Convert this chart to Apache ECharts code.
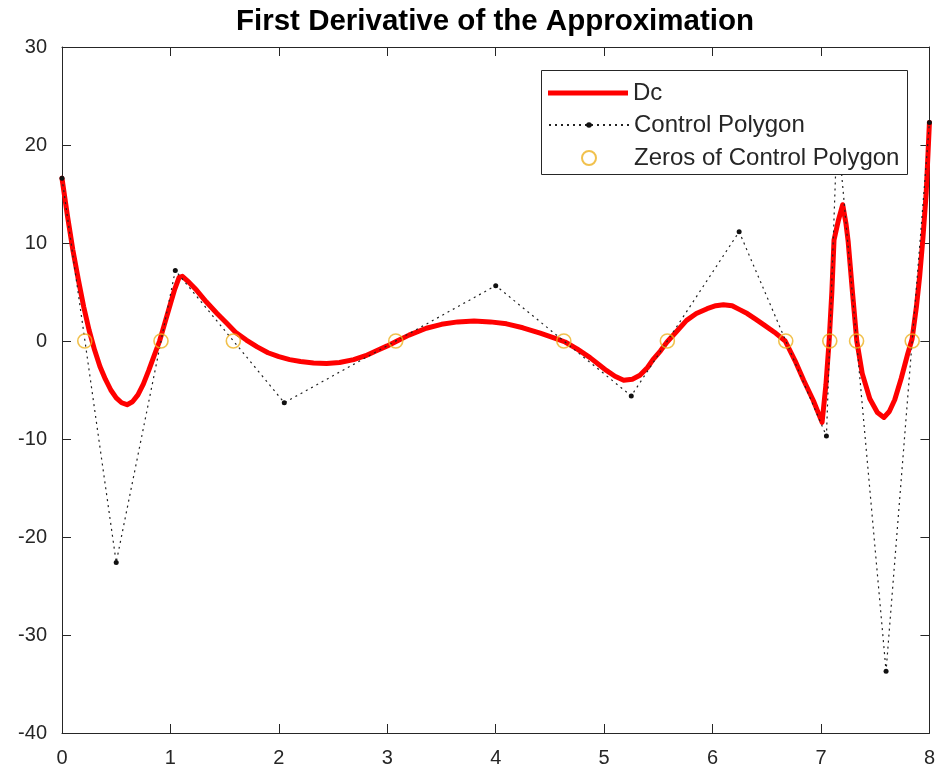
<!DOCTYPE html>
<html>
<head>
<meta charset="utf-8">
<title>First Derivative of the Approximation</title>
<script src="https://cdn.jsdelivr.net/npm/echarts@6/dist/echarts.min.js"></script>
<style>
  html, body { margin: 0; padding: 0; background: #fff; }
  #chart { width: 938px; height: 773px; }
</style>
</head>
<body>
<div id="chart"></div>
<script>
// Derivative curve Dc
const dcX = [0, 0.05, 0.10, 0.15, 0.20, 0.25, 0.30, 0.35, 0.40, 0.45, 0.50, 0.55, 0.60, 0.65, 0.70, 0.75, 0.80, 0.85, 0.90, 0.95, 1.00, 1.04, 1.08, 1.11, 1.17, 1.24, 1.33, 1.43, 1.52, 1.60, 1.70, 1.80, 1.90, 2.00, 2.10, 2.20, 2.32, 2.44, 2.56, 2.69, 2.80, 2.90, 3.00, 3.09, 3.20, 3.36, 3.50, 3.65, 3.80, 3.95, 4.10, 4.25, 4.41, 4.53, 4.64, 4.75, 4.87, 4.95, 5.02, 5.10, 5.18, 5.26, 5.33, 5.40, 5.45, 5.52, 5.58, 5.67, 5.76, 5.85, 5.95, 6.03, 6.10, 6.18, 6.25, 6.32, 6.40, 6.48, 6.57, 6.67, 6.76, 6.84, 6.93, 7.01, 7.045, 7.075, 7.10, 7.12, 7.16, 7.20, 7.23, 7.25, 7.29, 7.33, 7.38, 7.45, 7.52, 7.58, 7.63, 7.68, 7.74, 7.80, 7.84, 7.88, 7.91, 7.94, 7.97, 8.0];
const dcY = [16.6, 12.8, 9.3, 6.3, 3.5, 1.1, -0.9, -2.6, -3.9, -5.0, -5.8, -6.3, -6.5, -6.2, -5.5, -4.4, -3.0, -1.5, 0.0, 1.9, 3.8, 5.3, 6.5, 6.6, 6.0, 5.2, 4.0, 2.8, 1.8, 0.9, 0.1, -0.6, -1.2, -1.6, -1.9, -2.1, -2.25, -2.3, -2.2, -1.9, -1.5, -1.0, -0.5, 0.0, 0.6, 1.3, 1.7, 1.95, 2.05, 1.95, 1.75, 1.35, 0.8, 0.35, -0.1, -0.8, -1.7, -2.4, -3.0, -3.6, -4.0, -3.9, -3.5, -2.7, -1.9, -1.0, -0.1, 1.0, 2.1, 2.8, 3.3, 3.6, 3.7, 3.6, 3.2, 2.8, 2.2, 1.6, 0.9, 0.0, -2.0, -4.0, -6.1, -8.3, -4.5, 0.0, 5.0, 10.3, 12.3, 13.9, 12.0, 10.2, 5.0, 0.0, -3.3, -5.9, -7.3, -7.8, -7.2, -6.0, -3.8, -1.3, 0.2, 3.5, 6.6, 10.5, 15.1, 22.3];

// Control polygon vertices
const polyX = [0, 0.5, 1.045, 2.05, 4.0, 5.25, 6.245, 7.05, 7.15, 7.6, 8.0];
const polyY = [16.6, -22.6, 7.2, -6.3, 5.65, -5.6, 11.15, -9.7, 22, -33.7, 22.3];

// Zero crossings of the control polygon
const zerosX = [0.21, 0.913, 1.58, 3.078, 4.628, 5.583, 6.675, 7.081, 7.328, 7.841];
const zerosY = [0, 0, 0, 0, 0, 0, 0, 0, 0, 0];

// Axis ticks
const xTicks = { min: 0, max: 8, step: 1 };
const yTicks = { min: -40, max: 30, step: 10 };

const seriesNames = ['Dc', 'Control Polygon', 'Zeros of Control Polygon'];

const zip = (xs, ys) => xs.map((x, i) => [x, ys[i]]);

const FONT = "'Liberation Sans', Arial, Helvetica, sans-serif";
const AXIS_COLOR = '#262626';

const baseAxis = (t, showLabel, position) => ({
  type: 'value',
  position: position,
  min: t.min,
  max: t.max,
  interval: t.step,
  axisLine: { show: true, onZero: false, lineStyle: { color: AXIS_COLOR, width: 1 } },
  axisTick: { show: true, inside: true, length: 9, lineStyle: { color: AXIS_COLOR, width: 1 } },
  splitLine: { show: false },
  axisLabel: {
    show: showLabel,
    color: AXIS_COLOR,
    fontFamily: FONT,
    fontSize: 20
  }
});

const xMain = baseAxis(xTicks, true, 'bottom');
xMain.axisLabel.margin = 15;
const yMain = baseAxis(yTicks, true, 'left');
yMain.axisLabel.margin = 15;

// Legend: one entry per component so each sample gets its own size
const legendBox = { left: 541, top: 70, width: 366, height: 104 };
const legendRowCenters = [93, 125, 158];
const legendText = { fontFamily: FONT, fontSize: 24, lineHeight: 24, color: AXIS_COLOR };
const legendEntry = (name, i, itemHeight, left, icon) => ({
  orient: 'vertical',
  left: left,
  top: legendRowCenters[i] - 12,
  padding: 0,
  itemWidth: 80,
  itemHeight: itemHeight,
  itemGap: 0,
  z: 60,
  selectedMode: false,
  textStyle: legendText,
  data: [icon ? { name: name, icon: icon } : { name: name }]
});

const chart = echarts.init(document.getElementById('chart'), null, { renderer: 'canvas' });

chart.setOption({
  animation: false,
  backgroundColor: '#ffffff',
  title: {
    text: 'First Derivative of the Approximation',
    left: 490,
    textAlign: 'center',
    top: 2,
    textStyle: { fontFamily: FONT, fontSize: 29.5, fontWeight: 'bold', color: '#000' }
  },
  grid: { left: 62, right: 8, top: 47, bottom: 40, containLabel: false },
  xAxis: [xMain, baseAxis(xTicks, false, 'top')],
  yAxis: [yMain, baseAxis(yTicks, false, 'right')],
  graphic: [{
    type: 'rect',
    z: 50,
    shape: { x: legendBox.left + 0.5, y: legendBox.top + 0.5, width: legendBox.width, height: legendBox.height },
    style: { fill: '#ffffff', stroke: AXIS_COLOR, lineWidth: 1 }
  }],
  legend: [
    legendEntry(seriesNames[0], 0, 5, 548, 'path://M0,0L80,0L80,5L0,5Z'),
    legendEntry(seriesNames[1], 1, 7, 548),
    legendEntry(seriesNames[2], 2, 14, 581)
  ],
  series: [
    {
      name: seriesNames[0],
      type: 'line',
      data: zip(dcX, dcY),
      showSymbol: false,
      symbol: 'none',
      smooth: false,
      lineStyle: { color: '#ff0000', width: 5, join: 'round', cap: 'round' },
      itemStyle: { color: '#ff0000' },
      z: 2
    },
    {
      name: seriesNames[1],
      type: 'line',
      data: zip(polyX, polyY),
      symbol: 'circle',
      symbolSize: 5,
      lineStyle: { color: '#222', width: 1.2, type: [2, 4] },
      itemStyle: { color: '#111' },
      z: 3
    },
    {
      name: seriesNames[2],
      type: 'scatter',
      data: zip(zerosX, zerosY),
      symbol: 'circle',
      symbolSize: 14,
      itemStyle: { color: 'rgba(0,0,0,0)', borderColor: '#EDB120', borderWidth: 1.6 },
      z: 4
    }
  ]
});
</script>
</body>
</html>
